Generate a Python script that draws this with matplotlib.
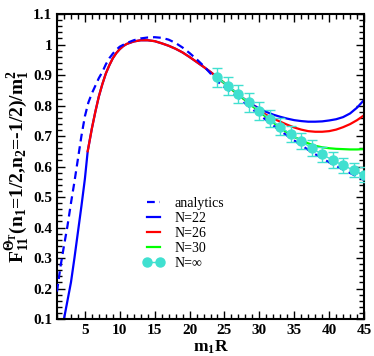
import matplotlib
matplotlib.use("Agg")
import matplotlib.pyplot as plt
from matplotlib.ticker import MultipleLocator

plt.rcParams["font.family"] = ["Liberation Serif", "DejaVu Serif"]
plt.rcParams["mathtext.fontset"] = "custom"
plt.rcParams["mathtext.rm"] = "Liberation Serif:bold"
plt.rcParams["mathtext.it"] = "Liberation Serif:bold"
plt.rcParams["mathtext.bf"] = "Liberation Serif:bold"

# analytics (dashed)
x_an = [1.0, 1.5, 2.0, 2.5, 3.0, 3.5, 4.0, 4.5, 5.0, 5.5, 6.0, 6.5, 7.0, 7.5, 8.0,
        8.5, 9.0, 9.5, 10, 11, 12, 13, 14, 15, 16, 17, 18, 19, 20, 21, 22, 23,
        24, 25.5, 27, 28.5, 30, 31.5, 33, 34.5, 36, 37.5, 39, 40.5, 42, 43.5, 45]
y_an = [0.19, 0.272, 0.34, 0.405, 0.48, 0.55, 0.625, 0.70, 0.765, 0.81, 0.84, 0.865,
        0.89, 0.91, 0.935, 0.955, 0.97, 0.983, 0.993, 1.005, 1.014, 1.02, 1.023,
        1.024, 1.022, 1.016, 1.005, 0.99, 0.972, 0.952, 0.93, 0.905,
        0.879, 0.851, 0.825, 0.797, 0.770, 0.743, 0.717, 0.693, 0.670, 0.647,
        0.627, 0.607, 0.590, 0.573, 0.556]

# N=22
x_22 = [2.0, 2.5, 3.0, 3.5, 4.0, 4.5, 5.0, 5.4, 6.0, 6.5, 7.0, 7.5, 8.0, 8.5, 9.0,
        9.5, 10, 10.5, 11, 12, 13, 14, 15, 16, 17, 18, 19, 20, 21, 22, 23, 24,
        25, 26, 27, 28, 29, 30, 31, 32, 33, 34, 35, 36, 37, 38, 39, 40, 41, 42,
        43, 44, 45]
y_22 = [0.1, 0.16, 0.22, 0.30, 0.385, 0.47, 0.56, 0.65, 0.725, 0.78, 0.83, 0.87,
        0.905, 0.932, 0.955, 0.972, 0.985, 0.995, 1.002, 1.010, 1.014, 1.014,
        1.011, 1.004, 0.996, 0.986, 0.974, 0.959, 0.943, 0.927, 0.91, 0.892,
        0.873, 0.854, 0.836, 0.818, 0.803, 0.790, 0.779, 0.770, 0.763, 0.757,
        0.752, 0.749, 0.747, 0.747, 0.748, 0.751, 0.755, 0.762, 0.774, 0.793, 0.818]

# N=26
x_26 = [5.4, 6.0, 6.5, 7.0, 7.5, 8.0, 8.5, 9.0, 9.5, 10, 10.5, 11, 12, 13, 14, 15,
        16, 17, 18, 19, 20, 21, 22, 23, 24, 25, 26, 27, 28, 29, 30, 31, 32, 33,
        34, 35, 36, 37, 38, 39, 40, 41, 42, 43, 44, 45]
y_26 = [0.65, 0.725, 0.78, 0.83, 0.87, 0.905, 0.932, 0.955, 0.972, 0.985, 0.995,
        1.002, 1.010, 1.014, 1.014, 1.011, 1.004, 0.996, 0.986, 0.974, 0.959,
        0.943, 0.927, 0.91, 0.892, 0.873, 0.854, 0.836, 0.818, 0.80, 0.784,
        0.769, 0.757, 0.747, 0.737, 0.728, 0.721, 0.716, 0.714, 0.714, 0.716,
        0.721, 0.729, 0.739, 0.752, 0.768]

# N=30
x_30 = [24, 25, 26, 27, 28, 29, 30, 31, 32, 33, 34, 35, 36, 37, 38, 39, 40, 41,
        42, 43, 44, 45]
y_30 = [0.892, 0.873, 0.854, 0.836, 0.817, 0.798, 0.780, 0.762, 0.744, 0.727,
        0.711, 0.697, 0.686, 0.676, 0.668, 0.663, 0.660, 0.658, 0.657, 0.656,
        0.656, 0.657]

# N=inf extrapolation with errors
x_inf = [24, 25.5, 27, 28.5, 30, 31.5, 33, 34.5, 36, 37.5, 39, 40.5, 42, 43.5, 45]
y_inf = [0.892, 0.864, 0.838, 0.810, 0.783, 0.756, 0.730, 0.706, 0.683, 0.660,
         0.640, 0.621, 0.604, 0.588, 0.573]
e_inf = [0.03, 0.03, 0.03, 0.03, 0.029, 0.028, 0.028, 0.027, 0.026, 0.026, 0.025,
         0.025, 0.024, 0.024, 0.024]

turq = "#40e0d0"

fig = plt.figure(figsize=(3.74, 3.56), dpi=100)
ax = fig.add_axes([0.1524, 0.1039, 0.8209, 0.8567])

ax.plot(x_an, y_an, color="#0000ff", lw=1.6, ls=(0, (3.5, 2.2)), label="analytics", zorder=3)
ax.plot(x_22, y_22, color="#0000ff", lw=1.6, label="N=22", zorder=2)
ax.plot(x_26, y_26, color="#ff0000", lw=1.6, label="N=26", zorder=2.1)
ax.plot(x_30, y_30, color="#00ff00", lw=1.6, label="N=30", zorder=2.2)
ax.errorbar(x_inf, y_inf, yerr=e_inf, fmt="none", ecolor=turq, elinewidth=1,
            capsize=3.5, zorder=4)
ax.plot(x_inf, y_inf, color=turq, lw=1, marker="o", ms=6.5, label="N=\u221e", zorder=4)

ax.set_xlim(1, 45)
ax.set_ylim(0.1, 1.1)
ax.xaxis.set_major_locator(MultipleLocator(5))
ax.xaxis.set_minor_locator(MultipleLocator(1))
ax.yaxis.set_minor_locator(MultipleLocator(0.02))
ax.set_yticks([0.1, 0.2, 0.3, 0.4, 0.5, 0.6, 0.7, 0.8, 0.9, 1.0, 1.1])
ax.set_yticklabels(["0.1", "0.2", "0.3", "0.4", "0.5", "0.6", "0.7", "0.8", "0.9", "1", "1.1"])
ax.tick_params(which="both", direction="in", top=True, right=True, labelsize=11)
ax.tick_params(which="major", length=6, width=1)
ax.tick_params(which="minor", length=3.5, width=1)
for lab in ax.get_xticklabels() + ax.get_yticklabels():
    lab.set_fontweight("bold")
for sp in ax.spines.values():
    sp.set_linewidth(1.5)

ax.set_xlabel(r"m$_1$R", fontsize=12.5, fontweight="bold", labelpad=1)
ax.set_ylabel(r"F$_{11}^{\Theta_T}$(n$_1$=1/2,n$_2$=-1/2)/m$_1^2$",
              fontsize=14, fontweight="bold", labelpad=1)

leg = ax.legend(loc="center left", bbox_to_anchor=(0.28, 0.281), frameon=False,
                fontsize=10, handlelength=1.5, handletextpad=0.8, labelspacing=0.15,
                borderpad=0, borderaxespad=0, numpoints=2)

fig.savefig("out.png", dpi=100)
